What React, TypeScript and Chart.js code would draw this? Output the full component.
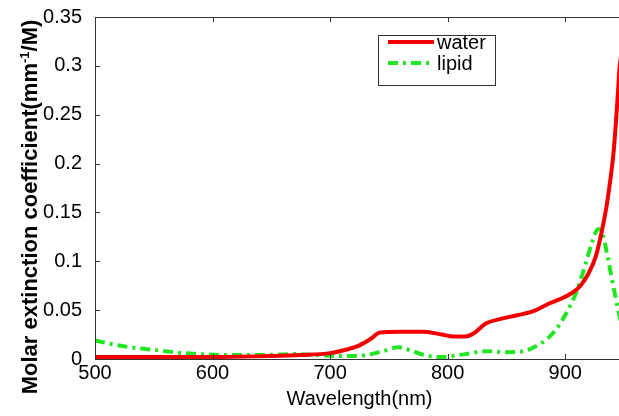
import React, { useEffect, useRef } from 'react';
import { Chart, registerables } from 'chart.js';

Chart.register(...registerables);

// ---- data ----
const waterWavelengths = [500, 550, 600, 650, 675, 700, 715, 725, 735, 742, 760, 780, 795, 805, 815, 822, 832, 845, 860, 873, 885, 895, 905, 913, 920, 926, 931, 935, 938, 941, 943, 945, 946, 948, 950];
const waterValues = [0.002, 0.002, 0.002, 0.003, 0.004, 0.006, 0.01, 0.014, 0.021, 0.027, 0.028, 0.028, 0.025, 0.023, 0.023, 0.026, 0.036, 0.041, 0.045, 0.049, 0.056, 0.061, 0.067, 0.075, 0.088, 0.105, 0.13, 0.155, 0.18, 0.21, 0.24, 0.275, 0.295, 0.315, 0.335];
const lipidWavelengths = [500, 515, 530, 545, 560, 575, 590, 610, 640, 670, 690, 710, 730, 745, 758, 768, 780, 795, 815, 833, 850, 865, 875, 885, 892, 900, 910, 918, 923, 928, 932, 936, 940, 943, 946, 950];
const lipidValues = [0.019, 0.015, 0.012, 0.01, 0.008, 0.006, 0.005, 0.004, 0.004, 0.005, 0.004, 0.003, 0.004, 0.008, 0.012, 0.009, 0.004, 0.002, 0.005, 0.008, 0.007, 0.008, 0.013, 0.021, 0.03, 0.045, 0.07, 0.1, 0.12, 0.133, 0.127, 0.105, 0.08, 0.062, 0.045, 0.025];
const xTicks = [500, 600, 700, 800, 900];
const yTicks = [0, 0.05, 0.1, 0.15, 0.2, 0.25, 0.3, 0.35];
const xMin = 500;
const xMax = 950;
const yMin = 0;
const yMax = 0.35;
const seriesNames = ['water', 'lipid'];
const xTitle = 'Wavelength(nm)';
const yTitleMain = 'Molar extinction coefficient(mm';
const yTitleSup = '-1';
const yTitleEnd = '/M)';

const FONT = "'Liberation Sans', Arial, sans-serif";
const RED = '#f20000';
const GREEN = '#22e622';
const GREEN_DASH = [10, 5, 3, 5];
const AXIS = '#333333';

const framePlugin = {
  id: 'matlabFrame',
  afterDatasetsDraw(chart: any) {
    const { ctx, chartArea, scales } = chart;
    const { left, right, top, bottom } = chartArea;
    ctx.save();
    ctx.strokeStyle = AXIS;
    ctx.lineWidth = 1;
    ctx.beginPath();
    ctx.rect(Math.round(left) + 0.5, Math.round(top) + 0.5, Math.round(right - left), Math.round(bottom - top));
    ctx.stroke();
    const tl = 5;
    ctx.beginPath();
    for (const v of xTicks) {
      const px = Math.round(scales.x.getPixelForValue(v)) + 0.5;
      ctx.moveTo(px, bottom);
      ctx.lineTo(px, bottom - tl);
      ctx.moveTo(px, top);
      ctx.lineTo(px, top + tl);
    }
    for (const v of yTicks) {
      const py = Math.round(scales.y.getPixelForValue(v)) + 0.5;
      ctx.moveTo(left, py);
      ctx.lineTo(left + tl, py);
      ctx.moveTo(right, py);
      ctx.lineTo(right - tl, py);
    }
    ctx.stroke();

    // legend box
    const bx = 378.5, by = 35.5, bw = 117, bh = 50;
    ctx.fillStyle = '#ffffff';
    ctx.fillRect(bx, by, bw, bh);
    ctx.strokeStyle = AXIS;
    ctx.strokeRect(bx, by, bw, bh);
    const rows = [
      { y: 42, color: RED, dash: [] as number[], label: seriesNames[0] },
      { y: 63, color: GREEN, dash: GREEN_DASH, label: seriesNames[1] },
    ];
    for (const r of rows) {
      ctx.beginPath();
      ctx.setLineDash(r.dash);
      ctx.strokeStyle = r.color;
      ctx.lineWidth = 4;
      ctx.moveTo(388, r.y);
      ctx.lineTo(434, r.y);
      ctx.stroke();
      ctx.setLineDash([]);
      ctx.fillStyle = '#000';
      ctx.font = `20px ${FONT}`;
      ctx.textBaseline = 'middle';
      ctx.textAlign = 'left';
      ctx.fillText(r.label, 437, r.y + 1);
    }

    // y title with superscript
    ctx.save();
    ctx.translate(37, 207);
    ctx.rotate(-Math.PI / 2);
    ctx.fillStyle = '#000';
    ctx.textBaseline = 'alphabetic';
    ctx.textAlign = 'left';
    const big = `bold 22px ${FONT}`;
    const small = `bold 13px ${FONT}`;
    ctx.font = big;
    const w1 = ctx.measureText(yTitleMain).width;
    const w3 = ctx.measureText(yTitleEnd).width;
    ctx.font = small;
    const w2 = ctx.measureText(yTitleSup).width;
    let x = -(w1 + w2 + w3) / 2;
    ctx.font = big;
    ctx.fillText(yTitleMain, x, 0);
    x += w1;
    ctx.font = small;
    ctx.fillText(yTitleSup, x, -8);
    x += w2;
    ctx.font = big;
    ctx.fillText(yTitleEnd, x, 0);
    ctx.restore();

    ctx.restore();
  },
};

export default function App() {
  const ref = useRef<HTMLCanvasElement | null>(null);
  useEffect(() => {
    document.body.style.margin = '0';
    document.body.style.overflow = 'hidden';
    const canvas = ref.current;
    if (!canvas) return;
    const chart = new Chart(canvas, {
      type: 'line',
      data: {
        datasets: [
          {
            label: seriesNames[0],
            data: waterWavelengths.map((w, i) => ({ x: w, y: waterValues[i] })),
            borderColor: RED,
            borderWidth: 4,
            pointRadius: 0,
            cubicInterpolationMode: 'monotone',
            fill: false,
          },
          {
            label: seriesNames[1],
            data: lipidWavelengths.map((w, i) => ({ x: w, y: lipidValues[i] })),
            borderColor: GREEN,
            borderWidth: 4,
            borderDash: GREEN_DASH,
            pointRadius: 0,
            cubicInterpolationMode: 'monotone',
            fill: false,
          },
        ],
      },
      options: {
        responsive: false,
        animation: false,
        devicePixelRatio: 1,
        layout: { padding: { top: 15, right: 6, left: 0, bottom: 0 } },
        plugins: { legend: { display: false }, tooltip: { enabled: false } },
        scales: {
          x: {
            type: 'linear',
            min: xMin,
            max: xMax,
            grid: { display: false },
            border: { display: false },
            afterBuildTicks: (s: any) => { s.ticks = xTicks.map((v) => ({ value: v })); },
            afterFit: (s: any) => { s.height = 57; },
            ticks: {
              padding: -6,
              maxRotation: 0,
              color: '#000',
              font: { family: FONT, size: 20 },
              callback: (v: any) => String(v),
            },
            title: {
              display: true,
              text: xTitle,
              color: '#000',
              font: { family: FONT, size: 20 },
              padding: { top: 0, bottom: 5 },
            },
          },
          y: {
            type: 'linear',
            min: yMin,
            max: yMax,
            grid: { display: false },
            border: { display: false },
            afterBuildTicks: (s: any) => { s.ticks = yTicks.map((v) => ({ value: v })); },
            afterFit: (s: any) => { s.width = 95; },
            ticks: {
              padding: 5,
              color: '#000',
              font: { family: FONT, size: 20 },
              callback: (v: any) => String(v),
            },
          },
        },
      },
      plugins: [framePlugin],
    } as any);
    return () => chart.destroy();
  }, []);
  return (
    <div style={{ width: 619, height: 416, overflow: 'hidden' }}>
      <canvas ref={ref} width={630} height={416} style={{ display: 'block' }} />
    </div>
  );
}
